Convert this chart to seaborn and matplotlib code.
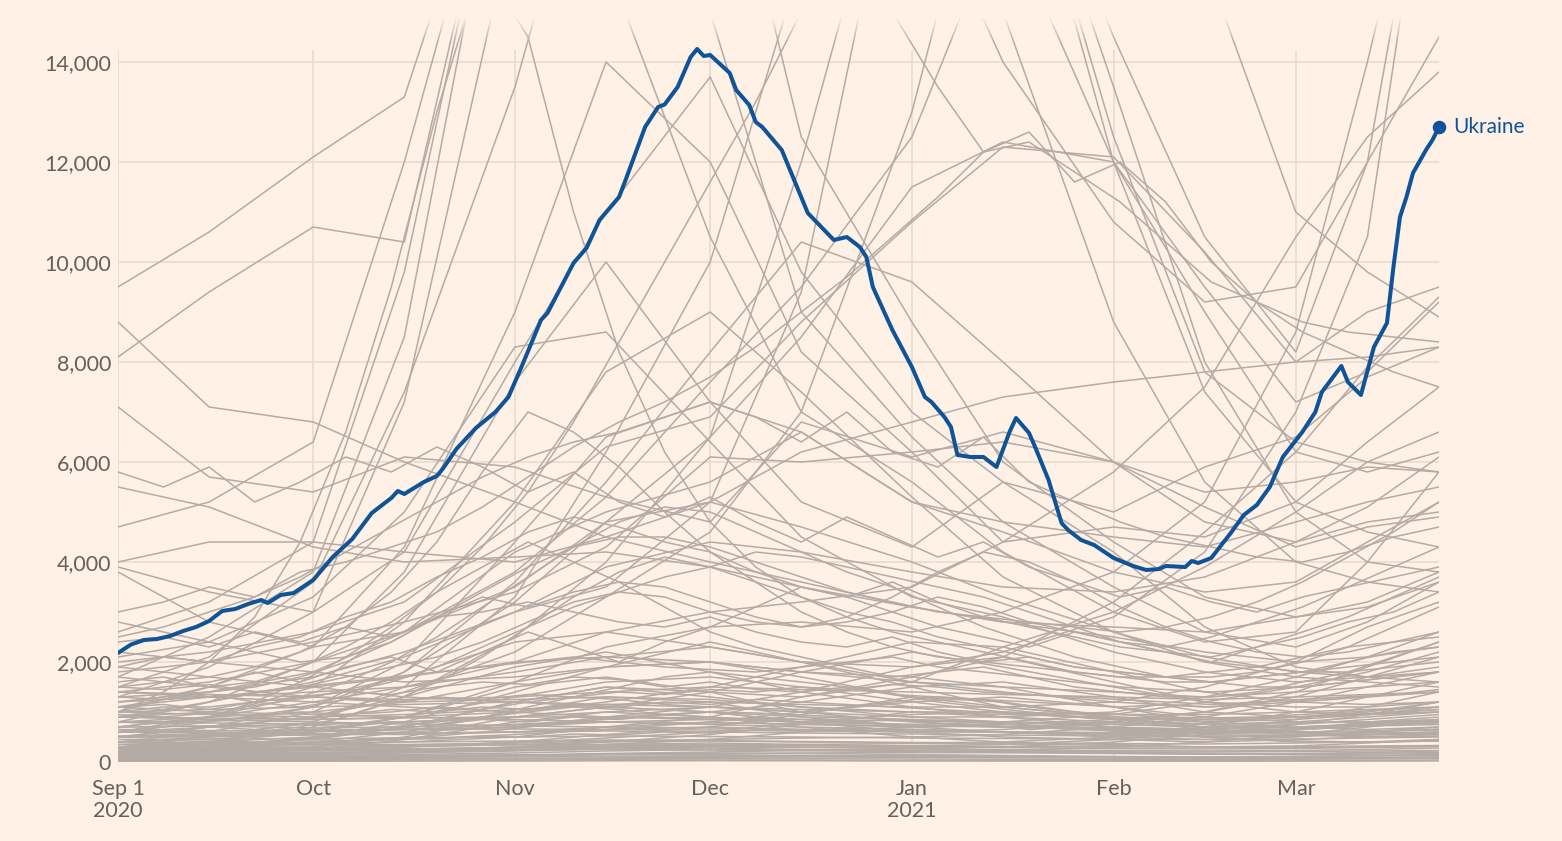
import numpy as np
import pandas as pd
import matplotlib
matplotlib.use("Agg")
import matplotlib.pyplot as plt
import matplotlib.dates as mdates
from matplotlib.colors import to_rgb
import seaborn as sns

# ---------------- data ----------------
START = "2020-09-01"
# semi-monthly sample days (offset from Sep 1 2020) for the coarse grey country lines
grid_days = [0, 14, 30, 44, 61, 75, 91, 105, 122, 136, 153, 167, 181, 192, 203]
# weekly sample days for the finer grey country lines
week_days = [0, 7, 14, 21, 28, 35, 42, 49, 56, 63, 70, 77, 84, 91, 98, 105, 112, 119,
             126, 133, 140, 147, 154, 161, 168, 175, 182, 189, 196, 203]

# Ukraine (highlighted): day offset from Sep 1 2020 and daily new cases (7-day avg)
ukr_days = [0, 2, 4, 6, 8, 10, 12, 14, 16, 18, 20, 22, 23, 25, 27, 30, 33, 36, 39, 42,
            43, 44, 47, 49, 50, 52, 55, 58, 60, 62, 65, 66, 70, 72, 74, 77, 78, 81, 83, 84,
            86, 88, 89, 90, 91, 94, 95, 97, 98, 99, 102, 106, 110, 112, 114, 115, 116, 119,
            122, 124, 125, 127, 128, 129, 131, 133, 135, 137, 138, 140, 141, 143, 145, 146,
            148, 150, 153, 156, 158, 160, 161, 164, 165, 166, 168, 171, 173, 175, 177, 179,
            182, 184, 185, 188, 189, 191, 193, 195, 196, 197, 198, 199, 201, 202, 203]
ukr_cases = [2180, 2350, 2440, 2460, 2520, 2620, 2700, 2820, 3020, 3060, 3160, 3240, 3180,
             3340, 3380, 3640, 4100, 4460, 4980, 5280, 5420, 5360, 5600, 5720, 5880, 6260,
             6680, 7000, 7300, 7900, 8840, 8980, 9980, 10280, 10840, 11300, 11640, 12700,
             13100, 13150, 13500, 14100, 14260, 14120, 14140, 13780, 13440, 13140, 12800,
             12700, 12240, 10980, 10440, 10500, 10300, 10100, 9500, 8640, 7900, 7300, 7200,
             6900, 6700, 6140, 6100, 6100, 5900, 6600, 6880, 6580, 6280, 5640, 4780, 4640,
             4440, 4340, 4080, 3920, 3840, 3860, 3920, 3900, 4020, 3980, 4080, 4580, 4940,
             5140, 5500, 6100, 6600, 7000, 7400, 7920, 7600, 7340, 8300, 8780, 9900, 10900,
             11300, 11780, 12240, 12440, 12700]

# grey countries on the semi-monthly grid (values above the chart top run off the top)
autumn_wave = [
    [1700, 2500, 3800, 8500, 20000, 20000, 15000, 9000, 6500, 4800, 3500, 2600, 2300, 2800, 3600],
    [1300, 1900, 3000, 7200, 17000, 16000, 10500, 7000, 5600, 4200, 3000, 2400, 2600, 4000, 5800],
    [2600, 3200, 4400, 9800, 20000, 20000, 20000, 12500, 8800, 6000, 4400, 3300, 2900, 3200, 3800],
    [4700, 5200, 6400, 12000, 20000, 20000, 20000, 20000, 20000, 20000, 12500, 7800, 6400, 6000, 5800],
    [1000, 1500, 2300, 4300, 9000, 14000, 12000, 8200, 6200, 4400, 4700, 4500, 5200, 6400, 7500],
    [800, 1200, 2000, 3800, 7600, 10000, 7200, 5200, 4300, 5600, 4200, 2700, 1900, 1700, 1800],
    [2100, 2400, 3300, 5000, 8300, 8600, 6400, 4500, 3300, 2900, 2200, 1800, 1600, 1700, 1900],
    [1500, 2100, 3600, 7400, 13500, 20000, 20000, 20000, 20000, 20000, 14500, 10500, 8200, 12000, 20000],
    [3900, 3400, 3000, 4200, 8000, 11000, 13700, 9800, 7000, 5600, 5000, 5900, 6500, 7700, 8300],
]
high_start = [
    [9500, 10600, 12100, 13300, 20000, 20000, 20000, 20000, 20000, 20000, 20000, 20000, 20000, 20000, 20000],
    [8100, 9400, 10700, 10400, 20000, 20000, 20000, 20000, 18000, 14000, 10800, 9200, 9500, 12000, 14500],
    [8800, 7100, 6800, 6000, 5200, 4500, 4000, 3600, 3100, 2800, 2500, 2200, 2000, 2100, 2300],
    [7100, 5700, 5400, 6100, 5900, 5300, 4800, 6800, 6100, 6600, 6000, 5100, 4300, 4700, 4900],
    [5500, 5100, 4300, 4000, 4100, 4200, 3900, 3500, 3100, 2800, 2700, 2600, 2900, 3100, 3600],
    [4000, 4400, 4400, 4200, 4000, 4500, 5200, 6200, 6800, 7300, 7600, 7800, 8000, 8100, 8300],
    [3800, 2800, 2300, 2600, 3500, 4800, 5200, 4700, 4000, 3300, 2600, 2100, 1800, 1700, 1600],
]
midlevel_wave = [
    [600, 900, 1500, 2800, 5200, 7800, 9000, 7400, 5300, 3700, 2600, 2000, 1700, 1600, 1500],
    [500, 700, 1100, 2000, 4400, 6500, 7200, 6600, 5200, 4600, 3800, 3400, 3600, 4400, 5200],
    [1100, 1400, 1800, 2600, 4200, 5000, 5600, 6600, 5200, 4800, 4500, 4300, 4800, 5200, 5500],
    [400, 600, 1000, 1800, 3600, 5600, 8200, 10400, 9600, 8000, 6000, 4800, 4400, 4800, 5000],
    [900, 1200, 1600, 2100, 3000, 3900, 4400, 4200, 3800, 3500, 3400, 3700, 4400, 5100, 6100],
    [1800, 2000, 2400, 2800, 3400, 4300, 6100, 6000, 6200, 6400, 6000, 5400, 5600, 5900, 5800],
]
winter_wave = [
    [300, 500, 800, 1500, 3300, 6200, 10000, 16000, 20000, 20000, 12000, 7400, 5200, 4600, 4300],
    [200, 400, 700, 1300, 2500, 4000, 6500, 12000, 20000, 20000, 13500, 8000, 5000, 4000, 3800],
    [1400, 1600, 2000, 2600, 3800, 5300, 7600, 9500, 12500, 17000, 12000, 9000, 6200, 5800, 6200],
    [600, 800, 1100, 1800, 3200, 4800, 6500, 8500, 11500, 12400, 12000, 9500, 7200, 7800, 9200],
    [500, 700, 900, 1400, 2200, 3300, 4600, 7000, 13000, 20000, 20000, 16000, 11000, 9800, 8900],
    [1200, 1400, 1700, 2200, 3000, 3500, 5200, 9400, 20000, 15000, 8800, 5600, 4000, 3600, 3400],
    [2000, 2200, 2600, 3200, 4800, 6300, 6900, 8800, 10800, 12300, 12100, 10200, 8000, 9000, 9500],
]
spring_wave = [
    [300, 400, 600, 900, 1600, 2300, 2700, 2800, 2600, 3000, 3800, 5200, 8600, 14000, 20000],
    [900, 1000, 1300, 1700, 2400, 2600, 2300, 2000, 1900, 2200, 2900, 4200, 7000, 10500, 20000],
    [700, 900, 1200, 1500, 2000, 2600, 3000, 3200, 3500, 4400, 5800, 7500, 10500, 12500, 13800],
    [1100, 1300, 1500, 1700, 2000, 2100, 2000, 1800, 1700, 2100, 3200, 4600, 6200, 7900, 9300],
    [200, 300, 500, 700, 1200, 1500, 1400, 1300, 1600, 2300, 3000, 3900, 5000, 6000, 6600],
]
low_autumn = [
    [600, 700, 900, 1300, 1900, 2200, 1800, 1400, 1100, 900, 800, 700, 750, 850, 950],
    [400, 450, 600, 900, 1500, 1700, 1400, 1000, 800, 700, 650, 600, 650, 800, 900],
    [300, 350, 450, 700, 1200, 1500, 1300, 1100, 900, 800, 700, 650, 700, 750, 800],
    [250, 300, 400, 600, 1000, 1300, 1200, 900, 700, 600, 500, 450, 500, 600, 700],
    [800, 900, 1000, 1200, 1600, 1900, 2000, 1700, 1300, 1100, 900, 800, 900, 1000, 1200],
    [150, 200, 300, 500, 900, 1100, 1000, 800, 600, 500, 450, 400, 450, 500, 550],
    [100, 150, 250, 450, 800, 1000, 900, 700, 500, 400, 350, 300, 320, 380, 450],
    [500, 550, 650, 900, 1300, 1600, 1700, 1500, 1200, 1000, 850, 750, 800, 900, 1000],
    [1200, 1300, 1400, 1500, 1800, 2100, 2300, 2000, 1600, 1400, 1200, 1100, 1200, 1300, 1400],
    [350, 400, 500, 800, 1400, 1900, 2400, 2000, 1500, 1100, 900, 800, 850, 950, 1100],
]
low_winter = [
    [300, 320, 350, 400, 500, 700, 900, 1300, 1700, 1500, 1100, 800, 700, 650, 700],
    [500, 500, 550, 600, 700, 900, 1100, 1400, 1900, 2100, 1600, 1200, 1000, 950, 1000],
    [200, 220, 250, 300, 400, 550, 700, 950, 1300, 1200, 900, 700, 600, 550, 600],
    [700, 720, 750, 800, 900, 1100, 1400, 1800, 2200, 1900, 1500, 1200, 1100, 1100, 1200],
    [100, 120, 150, 200, 300, 400, 550, 750, 1000, 900, 700, 500, 400, 400, 450],
    [400, 380, 400, 450, 550, 650, 800, 1000, 1200, 1300, 1100, 900, 800, 800, 850],
    [600, 580, 600, 650, 750, 850, 1000, 1200, 1500, 1600, 1300, 1000, 900, 950, 1050],
    [250, 260, 280, 320, 380, 480, 600, 800, 950, 1000, 850, 650, 550, 500, 520],
    [900, 880, 850, 900, 1000, 1200, 1500, 1900, 2400, 2300, 1800, 1400, 1200, 1150, 1200],
    [150, 160, 180, 220, 280, 350, 450, 600, 700, 750, 650, 500, 420, 400, 420],
]
low_flat = [
    [1000, 1050, 1100, 1150, 1200, 1150, 1100, 1050, 1000, 1000, 950, 950, 1000, 1050, 1100],
    [800, 820, 850, 880, 900, 900, 880, 850, 820, 800, 780, 760, 780, 800, 820],
    [600, 620, 640, 650, 660, 650, 640, 620, 600, 600, 590, 580, 600, 620, 640],
    [450, 460, 470, 480, 500, 520, 510, 500, 480, 470, 460, 450, 460, 480, 500],
    [300, 310, 320, 330, 340, 350, 340, 330, 320, 310, 300, 300, 310, 320, 330],
    [200, 210, 220, 230, 240, 250, 240, 230, 220, 210, 200, 200, 210, 220, 230],
    [100, 110, 120, 130, 140, 150, 140, 130, 120, 110, 100, 100, 110, 120, 130],
    [50, 55, 60, 65, 70, 75, 70, 65, 60, 55, 50, 50, 55, 60, 65],
    [1400, 1350, 1300, 1250, 1300, 1400, 1500, 1450, 1400, 1350, 1300, 1250, 1300, 1350, 1400],
    [700, 720, 680, 700, 750, 800, 780, 760, 720, 700, 680, 660, 700, 740, 780],
    [350, 360, 380, 400, 420, 440, 430, 410, 390, 380, 370, 360, 380, 400, 420],
    [20, 25, 30, 35, 40, 45, 40, 35, 30, 28, 25, 25, 28, 30, 35],
    [75, 80, 90, 95, 100, 110, 105, 100, 95, 90, 85, 80, 85, 90, 95],
    [520, 540, 560, 580, 600, 620, 600, 580, 560, 540, 520, 510, 530, 550, 570],
]
low_spring = [
    [400, 380, 360, 350, 380, 420, 450, 480, 500, 550, 700, 900, 1200, 1500, 1800],
    [300, 290, 280, 300, 350, 400, 420, 400, 380, 400, 500, 700, 1000, 1300, 1600],
    [600, 580, 560, 550, 600, 650, 700, 650, 600, 650, 800, 1000, 1400, 1900, 2400],
    [200, 190, 180, 200, 250, 300, 320, 300, 280, 300, 400, 550, 750, 950, 1200],
    [800, 780, 760, 800, 900, 1000, 1100, 1000, 900, 900, 1000, 1300, 1700, 2100, 2600],
    [150, 140, 130, 150, 180, 220, 250, 230, 210, 230, 300, 400, 550, 700, 850],
    [500, 520, 540, 560, 600, 700, 800, 750, 700, 750, 850, 1000, 1300, 1700, 2100],
    [1000, 950, 900, 950, 1050, 1150, 1200, 1150, 1100, 1100, 1200, 1500, 2000, 2700, 3200],
    [250, 240, 230, 250, 300, 350, 380, 350, 320, 350, 450, 600, 850, 1100, 1400],
    [650, 630, 620, 650, 700, 800, 850, 800, 750, 800, 950, 1200, 1500, 1800, 2200],
]
low_decline = [
    [1900, 1700, 1500, 1300, 1200, 1100, 1000, 900, 850, 800, 750, 700, 700, 720, 750],
    [1400, 1300, 1200, 1100, 1000, 900, 850, 800, 750, 700, 650, 600, 600, 620, 650],
    [1100, 1000, 950, 900, 850, 800, 750, 700, 650, 600, 560, 520, 520, 540, 560],
    [1700, 1500, 1300, 1200, 1250, 1300, 1250, 1100, 1000, 950, 900, 850, 900, 950, 1000],
    [2200, 2000, 1800, 1600, 1700, 1900, 2000, 1800, 1600, 1500, 1400, 1300, 1400, 1500, 1600],
    [900, 850, 800, 760, 720, 700, 680, 650, 620, 600, 580, 560, 560, 580, 600],
]
low_tiny = [
    [30, 40, 60, 90, 120, 150, 140, 120, 100, 90, 80, 70, 75, 85, 100],
    [60, 70, 80, 100, 130, 160, 180, 170, 150, 130, 110, 100, 110, 130, 150],
    [90, 100, 110, 120, 140, 170, 200, 230, 260, 240, 200, 170, 160, 170, 190],
    [120, 130, 150, 180, 220, 260, 280, 250, 220, 200, 180, 160, 170, 190, 220],
    [170, 180, 190, 210, 240, 280, 300, 290, 270, 250, 230, 220, 230, 250, 280],
    [10, 12, 15, 18, 22, 26, 30, 28, 25, 22, 20, 18, 20, 22, 25],
    [40, 45, 50, 55, 65, 80, 95, 110, 120, 110, 95, 80, 75, 80, 90],
    [220, 230, 240, 260, 290, 320, 340, 330, 310, 290, 270, 260, 270, 290, 310],
    [270, 260, 250, 260, 280, 310, 330, 350, 370, 360, 330, 300, 290, 300, 320],
    [130, 125, 120, 125, 135, 150, 165, 180, 190, 185, 170, 155, 150, 160, 175],
]

# grey countries on the weekly grid
weekly_mid = [
    [1900, 2100, 2000, 2300, 2500, 2900, 3200, 3700, 4100, 4600, 4900, 4700, 4400, 4200, 3800, 3500, 3300, 3600, 3200, 2900, 2700, 2500, 2300, 2200, 2100, 2300, 2600, 2900, 3300, 3700],
    [1200, 1300, 1500, 1600, 1900, 2300, 2800, 3400, 3900, 4400, 4000, 3600, 3100, 2600, 2300, 2100, 1900, 1700, 1800, 1900, 1700, 1500, 1400, 1300, 1300, 1400, 1600, 1800, 2100, 2400],
    [2800, 2600, 2400, 2200, 2000, 2100, 2400, 2900, 3300, 3100, 3400, 3600, 3500, 3200, 2900, 2700, 2800, 3000, 3300, 3100, 2800, 2600, 2400, 2300, 2500, 2800, 3100, 3500, 3900, 4300],
    [1500, 1600, 1700, 1900, 2200, 2700, 3400, 4400, 5800, 7000, 6600, 5900, 5000, 4200, 3600, 3000, 2600, 2300, 2100, 2000, 1900, 1800, 1700, 1700, 1800, 1900, 2100, 2300, 2400, 2600],
    [1000, 1100, 1100, 1200, 1300, 1400, 1600, 1900, 2300, 2700, 3100, 3400, 3700, 3900, 4200, 4100, 3900, 3700, 3500, 3300, 3000, 2700, 2400, 2200, 2000, 1900, 1800, 1800, 1900, 2000],
    [2400, 2500, 2300, 2600, 2400, 2700, 2500, 2900, 3000, 3200, 3000, 2800, 2700, 2900, 2600, 2400, 2300, 2500, 2200, 2000, 2100, 1900, 1800, 1700, 1600, 1700, 1800, 2000, 2200, 2300],
    [700, 800, 900, 1100, 1300, 1600, 2000, 2500, 3100, 3700, 4300, 4800, 5100, 5000, 4600, 4200, 3800, 3500, 3100, 2700, 2400, 2100, 1900, 1700, 1600, 1500, 1500, 1600, 1700, 1800],
    [1600, 1700, 1500, 1800, 1600, 1900, 2100, 1800, 2200, 2600, 2300, 2000, 2400, 2700, 3100, 3500, 3300, 3000, 2700, 2500, 2300, 2600, 2400, 2200, 2000, 2300, 2500, 2800, 3000, 3400],
    [900, 1000, 1200, 1400, 1500, 1700, 1900, 2100, 2400, 2800, 3200, 3400, 3300, 3000, 2800, 2700, 2900, 3300, 3800, 4200, 4000, 3600, 3100, 2700, 2400, 2200, 2100, 2200, 2400, 2500],
    [3000, 3200, 3500, 3300, 3800, 4000, 4300, 4600, 5100, 5700, 6300, 6800, 7200, 7700, 8300, 9000, 9700, 10500, 11300, 12200, 12400, 11800, 11200, 10400, 9600, 9200, 8800, 8600, 8500, 8400],
    [5800, 5500, 5900, 5200, 5600, 6100, 5800, 6300, 5900, 5400, 5800, 5200, 4900, 5300, 4800, 4400, 4900, 4500, 4100, 4400, 3900, 3600, 3300, 3500, 3200, 3000, 3300, 3500, 3700, 3900],
    [400, 450, 500, 600, 700, 900, 1200, 1600, 2100, 2700, 3300, 3800, 4100, 3900, 3600, 3300, 3000, 2800, 2500, 2300, 2100, 1900, 1800, 1700, 1700, 1800, 2000, 2300, 2700, 3100],
    [1000, 1400, 2000, 2900, 4400, 6600, 9500, 13000, 16000, 14500, 11000, 8200, 6200, 4800, 3900, 3300, 2900, 2600, 2400, 2200, 2000, 1800, 1700, 1600, 1600, 1700, 1800, 1900, 2000, 2100],
    [2500, 2700, 3000, 3300, 3700, 4200, 4700, 5200, 5700, 6100, 6400, 6600, 6900, 7200, 6900, 6400, 7000, 6200, 5900, 6500, 5600, 5200, 4800, 4500, 4300, 4100, 4000, 4200, 4500, 4700],
    [600, 700, 900, 1200, 1600, 2100, 2700, 3400, 4300, 5400, 6800, 8400, 10000, 11600, 13200, 15000, 16000, 15000, 13500, 12200, 12600, 11600, 12000, 11200, 10000, 9200, 8600, 8200, 7800, 7500],
    [1300, 1350, 1400, 1500, 1700, 2000, 2400, 2900, 3400, 3900, 4300, 4500, 4500, 4300, 4000, 3700, 3400, 3200, 3000, 2900, 2800, 2700, 2600, 2700, 2900, 3200, 3600, 4100, 4600, 5200],
]
weekly_low = [
    [1300, 1250, 1350, 1200, 1300, 1400, 1350, 1500, 1600, 1550, 1700, 1650, 1500, 1600, 1450, 1400, 1500, 1350, 1300, 1250, 1200, 1150, 1100, 1150, 1100, 1200, 1250, 1300, 1350, 1400],
    [500, 550, 520, 600, 650, 620, 700, 800, 900, 1000, 1100, 1050, 950, 1000, 900, 850, 800, 850, 780, 720, 700, 650, 620, 600, 580, 600, 650, 700, 750, 800],
    [800, 760, 820, 900, 850, 950, 1000, 1100, 1050, 1200, 1300, 1250, 1150, 1100, 1050, 1000, 1100, 1200, 1300, 1250, 1100, 1000, 950, 900, 880, 900, 950, 1000, 1050, 1100],
    [300, 320, 350, 330, 380, 420, 460, 520, 600, 700, 800, 900, 950, 1000, 980, 940, 900, 860, 820, 780, 740, 700, 660, 640, 620, 640, 680, 720, 780, 840],
    [1100, 1150, 1050, 1200, 1100, 1250, 1200, 1300, 1250, 1350, 1300, 1400, 1350, 1450, 1400, 1500, 1450, 1550, 1500, 1400, 1350, 1300, 1250, 1200, 1150, 1200, 1250, 1300, 1350, 1450],
    [650, 600, 700, 650, 750, 700, 800, 750, 850, 800, 900, 850, 950, 900, 850, 800, 850, 750, 700, 750, 650, 700, 600, 650, 550, 600, 650, 700, 750, 800],
    [200, 250, 300, 350, 450, 550, 650, 750, 900, 1100, 1300, 1500, 1700, 1800, 1700, 1600, 1500, 1350, 1200, 1100, 1000, 900, 850, 800, 750, 700, 700, 750, 800, 850],
    [1500, 1450, 1550, 1400, 1500, 1600, 1700, 1800, 1900, 2000, 2100, 2000, 1900, 1850, 1800, 1900, 2000, 2100, 1900, 1800, 1700, 1600, 1500, 1450, 1400, 1450, 1500, 1600, 1700, 1800],
    [400, 380, 420, 400, 450, 430, 480, 460, 520, 500, 560, 540, 600, 580, 640, 620, 680, 660, 640, 600, 580, 560, 540, 520, 500, 520, 540, 580, 620, 660],
    [950, 900, 980, 920, 1000, 950, 1050, 1000, 1100, 1050, 1150, 1100, 1200, 1150, 1250, 1200, 1150, 1100, 1050, 1000, 950, 900, 880, 860, 840, 860, 900, 950, 1000, 1050],
]

month_ticks = ["2020-09-01", "2020-10-01", "2020-11-01", "2020-12-01",
               "2021-01-01", "2021-02-01", "2021-03-01"]
month_labels = ["Sep 1\n2020", "Oct", "Nov", "Dec", "Jan\n2021", "Feb", "Mar"]
y_ticks = [0, 2000, 4000, 6000, 8000, 10000, 12000, 14000]
highlight_name = "Ukraine"

# ---------------- style ----------------
BG = "#FFF1E5"
GRID = "#E6D9CE"
GREY = "#B4ABA5"
BLUE = "#0F5499"
TXT = "#66605C"
Y_TOP = 14880
VGRID_TOP = 14240

sns.set_theme(style="white")
plt.rcParams["font.family"] = ["Lato", "DejaVu Sans"]

start = pd.Timestamp(START)
rows = []
coarse = {"autumn": autumn_wave, "high": high_start, "mid": midlevel_wave,
          "winter": winter_wave, "spring": spring_wave, "la": low_autumn,
          "lw": low_winter, "lf": low_flat, "ls": low_spring, "ld": low_decline,
          "lt": low_tiny}
fine = {"wm": weekly_mid, "wl": weekly_low}
for days, groups in ((grid_days, coarse), (week_days, fine)):
    for gname, series in groups.items():
        for i, vals in enumerate(series):
            for d, v in zip(days, vals):
                rows.append((f"{gname}{i}", start + pd.Timedelta(days=d), v))
grey_df = pd.DataFrame(rows, columns=["country", "date", "cases"])

ukr_df = pd.DataFrame({"date": [start + pd.Timedelta(days=d) for d in ukr_days],
                       "cases": ukr_cases})

W, H = 1562, 841
fig = plt.figure(figsize=(W / 100, H / 100), dpi=100, facecolor=BG)
ax = fig.add_axes([118 / W, 1 - 762 / H, (1439 - 118) / W, (762 - 18) / H])
ax.set_facecolor(BG)

sns.lineplot(data=grey_df, x="date", y="cases", units="country", estimator=None,
             color=GREY, linewidth=1.1, ax=ax, legend=False, zorder=2)
sns.lineplot(data=ukr_df, x="date", y="cases", color=BLUE, linewidth=2.9,
             ax=ax, legend=False, zorder=6)
for ln in ax.lines:
    ln.set_solid_joinstyle("round")

x0 = start
x1 = start + pd.Timedelta(days=max(ukr_days))

# fade at the top where lines run off the chart
grad = np.zeros((64, 1, 4))
grad[:, 0, :3] = to_rgb(BG)
grad[:, 0, 3] = np.linspace(0, 1, 64) ** 1.2
ax.imshow(grad, extent=[mdates.date2num(x0), mdates.date2num(x1), 14350, Y_TOP],
          origin="lower", aspect="auto", zorder=4, interpolation="bilinear")
ax.set_xlim(x0, x1)
ax.set_ylim(0, Y_TOP)

# grid
ax.set_yticks(y_ticks)
ax.set_yticklabels([f"{v:,}" for v in y_ticks])
ax.yaxis.grid(True, color=GRID, linewidth=1.1, zorder=0)
ax.set_axisbelow(True)
tick_dates = pd.to_datetime(month_ticks)
ax.vlines(tick_dates, 0, VGRID_TOP, color=GRID, linewidth=1.1, zorder=1)
ax.set_xticks(tick_dates)
ax.set_xticklabels(month_labels, linespacing=1.15)
for s in ax.spines.values():
    s.set_visible(False)
ax.tick_params(axis="both", length=0, labelsize=15.5, labelcolor=TXT)
ax.tick_params(axis="x", pad=12)
ax.tick_params(axis="y", pad=5)
ax.set_xlabel("")
ax.set_ylabel("")

# end marker and label
ax.scatter([ukr_df["date"].iloc[-1]], [ukr_df["cases"].iloc[-1]], s=95, color=BLUE,
           zorder=7, clip_on=False, linewidths=0)
ax.annotate(highlight_name, (ukr_df["date"].iloc[-1], ukr_df["cases"].iloc[-1]),
            xytext=(10, 0), textcoords="offset points", va="center", ha="left",
            color=BLUE, fontsize=15, annotation_clip=False)

fig.savefig("out.png", dpi=100, facecolor=BG)
